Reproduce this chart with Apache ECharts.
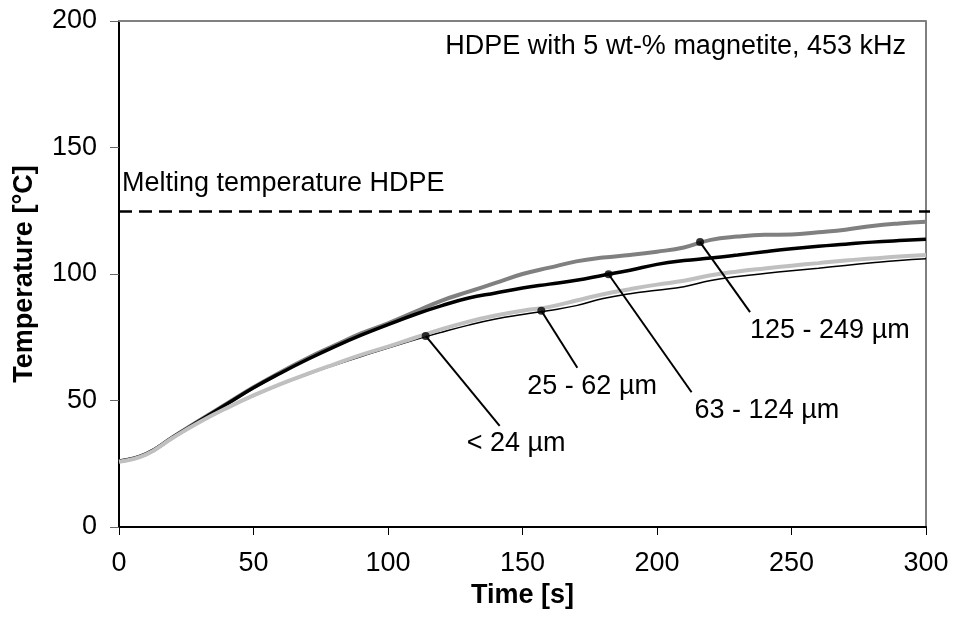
<!DOCTYPE html>
<html>
<head>
<meta charset="utf-8">
<script src="https://cdn.jsdelivr.net/npm/echarts@6/dist/echarts.min.js"></script>
<style>
  html, body { margin: 0; padding: 0; background: #fff; }
  #chart { width: 953px; height: 618px; }
</style>
</head>
<body>
<div id="chart"></div>
<script>
// Heating curves of HDPE filled with magnetite particles of different sizes
const timeS = [0, 10, 20, 30, 40, 50, 60, 70, 80, 90, 100, 110, 120, 130, 140, 150,
               160, 170, 180, 190, 200, 210, 220, 230, 240, 250, 260, 270, 280, 290, 300];

const temp125to249 = [26, 28.8, 35.5, 42.2, 48.7, 55.2, 61.2, 66.7, 71.7, 76.5, 80.5, 85, 89.5, 93, 96.5, 100,
                      102.5, 105, 106.5, 107.5, 108.8, 110.5, 113.5, 114.8, 115.5, 115.6, 116.5, 117.5, 119, 120, 120.7];
const temp63to124 = [26, 28.8, 35.5, 42, 48.5, 55, 60.8, 66.2, 71.2, 75.8, 80, 84, 87.5, 90.5, 92.5, 94.5,
                     96, 97.5, 99.5, 101.5, 103.8, 105.3, 106.3, 107.5, 108.8, 110, 111, 111.8, 112.6, 113.2, 113.7];
const temp25to62 = [25.8, 28.6, 35.3, 41.5, 47, 52, 56.5, 60.5, 64.3, 68, 71.3, 74.8, 78.2, 81.2, 83.6, 85.5,
                    87, 89.5, 92, 94, 95.8, 97.3, 99.5, 101, 102.2, 103.3, 104.3, 105.3, 106.1, 106.9, 107.5];
const tempBelow24 = [25.8, 28.6, 35.3, 41.3, 46.8, 51.7, 56.2, 60.2, 63.9, 67.4, 70.7, 74, 77, 79.8, 82.2, 84,
                     85.6, 87.5, 90.3, 92.2, 93.6, 95, 97.4, 99, 100.2, 101.3, 102.3, 103.4, 104.4, 105.3, 106];

const meltingTemp = 125;

// Size-class labels and the points on the curves they refer to
const labelTexts = ['< 24 µm', '25 - 62 µm', '63 - 124 µm', '125 - 249 µm'];
const labelAnchorTime = [114, 157, 182, 216];
const labelAnchorTemp = [75.5, 85.5, 99.9, 112.6];

const xTicks = [0, 50, 100, 150, 200, 250, 300];
const yTicks = [0, 50, 100, 150, 200];

const FONT = '"Liberation Sans", Arial, sans-serif';
const FS = 27;

const chart = echarts.init(document.getElementById('chart'), null, { renderer: 'canvas' });

function pairs(ys) { return timeS.map((t, i) => [t, ys[i]]); }

function curve(name, ys, color, width, z) {
  return {
    name, type: 'line', data: pairs(ys), showSymbol: false, smooth: 0.45,
    lineStyle: { color, width }, silent: true, z
  };
}

chart.setOption({
  animation: false,
  backgroundColor: '#fff',
  textStyle: { fontFamily: FONT, color: '#000' },
  grid: { left: 119, right: 27, top: 21, bottom: 91, show: true,
          borderColor: '#000', borderWidth: 1, backgroundColor: 'transparent' },
  xAxis: [{
    type: 'value', min: xTicks[0], max: xTicks[xTicks.length - 1], interval: 50,
    name: 'Time [s]', nameLocation: 'middle', nameGap: 49,
    nameTextStyle: { fontSize: FS, fontWeight: 'bold', color: '#000', fontFamily: FONT },
    axisLine: { show: true, lineStyle: { color: '#000', width: 2 } },
    axisTick: { show: true, length: 8, lineStyle: { color: '#000', width: 1 } },
    axisLabel: { fontSize: FS, color: '#000', margin: 23, fontFamily: FONT },
    splitLine: { show: false }
  }, {
    type: 'value', position: 'top', min: 0, max: 300,
    axisLine: { show: true, lineStyle: { color: '#808080', width: 2 } },
    axisTick: { show: false }, axisLabel: { show: false }, splitLine: { show: false }
  }],
  yAxis: {
    type: 'value', min: yTicks[0], max: yTicks[yTicks.length - 1], interval: 50,
    name: 'Temperature [°C]', nameLocation: 'middle', nameGap: 81,
    nameTextStyle: { fontSize: FS, fontWeight: 'bold', color: '#000', fontFamily: FONT },
    axisLine: { show: true, lineStyle: { color: '#000', width: 2 } },
    axisTick: { show: true, length: 9, lineStyle: { color: '#666', width: 1 } },
    axisLabel: { fontSize: FS, color: '#000', margin: 22, fontFamily: FONT },
    splitLine: { show: false }
  },
  series: [
    curve('125 - 249 µm', temp125to249, '#808080', 4, 2),
    curve('63 - 124 µm', temp63to124, '#000000', 3.5, 3),
    curve('< 24 µm', tempBelow24, '#000000', 1.5, 4),
    curve('25 - 62 µm', temp25to62, '#c0c0c0', 4, 4),
    {
      name: 'melting', type: 'line', data: [], silent: true,
      markLine: {
        silent: true, symbol: ['none', 'none'], label: { show: false },
        lineStyle: { color: '#000', width: 2.5, type: [13, 7] },
        data: [[{ coord: [0, meltingTemp] }, { x: 930, yAxis: meltingTemp }]]
      }
    },
    {
      name: 'anchors', type: 'scatter', symbol: 'circle', symbolSize: 8, silent: true, z: 6,
      itemStyle: { color: '#000' },
      data: labelAnchorTime.map((t, i) => [t, labelAnchorTemp[i]])
    }
  ]
});

// Leader lines and size-class labels, placed relative to each anchor point
const leaderOffsets = [[74, 90], [36, 57], [83, 118], [50, 70]];
const labelOffsets = [[41, 108], [-14, 76], [86, 136], [50, 88]];

const graphics = [];
labelAnchorTime.forEach((t, i) => {
  const p = chart.convertToPixel({ gridIndex: 0 }, [t, labelAnchorTemp[i]]);
  const [dx, dy] = leaderOffsets[i];
  graphics.push({
    type: 'line', silent: true, z: 5,
    shape: { x1: p[0], y1: p[1], x2: p[0] + dx, y2: p[1] + dy },
    style: { stroke: '#000', lineWidth: 2 }
  });
  const [lx, ly] = labelOffsets[i];
  graphics.push({
    type: 'text', silent: true, z: 5,
    x: p[0] + lx, y: p[1] + ly,
    style: { text: labelTexts[i], fontSize: FS, fontFamily: FONT, fill: '#000',
             textAlign: 'left', textVerticalAlign: 'middle' }
  });
});

const meltPx = chart.convertToPixel({ gridIndex: 0 }, [0, meltingTemp]);
graphics.push({
  type: 'text', silent: true,
  x: meltPx[0] + 3, y: meltPx[1] - 27,
  style: { text: 'Melting temperature HDPE', fontSize: FS, fontFamily: FONT, fill: '#000',
           textAlign: 'left', textVerticalAlign: 'middle' }
});
graphics.push({
  type: 'text', silent: true,
  x: 906, y: 47,
  style: { text: 'HDPE with 5 wt-% magnetite, 453 kHz', fontSize: FS, fontFamily: FONT, fill: '#000',
           textAlign: 'right', textVerticalAlign: 'middle' }
});

chart.setOption({ graphic: graphics });
</script>
</body>
</html>
